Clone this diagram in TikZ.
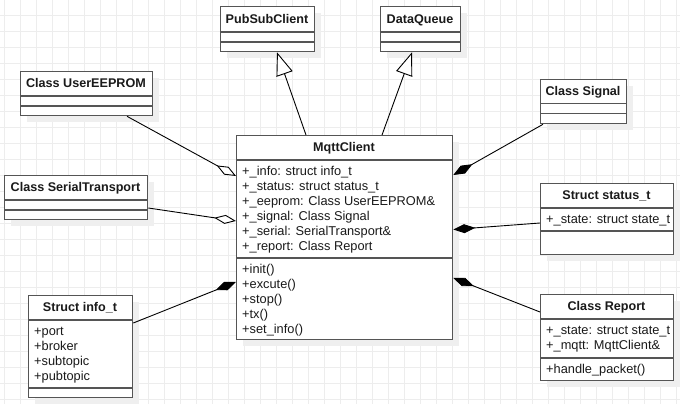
\documentclass[tikz,border=0pt]{standalone}
\usepackage{fontspec}
\setmainfont{Liberation Sans}
\usetikzlibrary{arrows.meta,calc}
\definecolor{gridc}{HTML}{EDEDED}
\definecolor{shadowc}{HTML}{EFEFEF}
\definecolor{borderc}{HTML}{555555}
\definecolor{textc}{HTML}{1A1A1A}
\tikzset{
  umlframe/.style={draw=borderc, line width=1.3pt, fill=white, inner sep=0pt, anchor=north west},
  sepline/.style={draw=borderc, line width=1.3pt},
  titletext/.style={anchor=base, inner sep=0pt, font=\fontsize{12.6}{15}\selectfont\bfseries, text=textc},
  membertext/.style={anchor=north west, inner sep=0pt, align=left, font=\fontsize{12.8}{15}\selectfont, text=textc},
  conn/.style={draw=black, line width=0.9pt},
  inherit/.style={conn, -{Triangle[length=23pt, width=17pt, fill=white]}},
  aggr/.style={conn, -{Diamond[length=22pt, width=9pt, fill=white]}},
  compo/.style={conn, -{Diamond[length=22pt, width=9pt, fill=black]}},
}
% name, x, y, w, h, sep1 offset, sep2 offset
\newcommand\umlbox[7]{%
  \fill[shadowc] (#2+7,#3+7) rectangle ++(#4,#5);
  \node[umlframe, minimum width=#4pt, minimum height=#5pt] (#1) at (#2,#3) {};
  \draw[sepline] ($(#1.north west)+(0,#6)$) -- ++(#4,0);
  \draw[sepline] ($(#1.north west)+(0,#7)$) -- ++(#4,0);
}
\begin{document}
\begin{tikzpicture}[x=1pt,y=-1pt]
\useasboundingbox (0,0) rectangle (680,404);
\fill[white] (0,0) rectangle (680,404);
% grid
\foreach \gx in {4,20,...,676} \draw[gridc, line width=0.9pt] (\gx,0) -- (\gx,404);
\foreach \gy in {15.3,31.3,...,404} \draw[gridc, line width=0.9pt] (0,\gy) -- (680,\gy);

% boxes
\umlbox{psc}{220}{6}{94}{45}{26}{36}
\umlbox{dq}{380}{6}{80}{45}{26}{36}
\umlbox{uee}{20}{71}{132}{44}{25}{35}
\umlbox{st}{4}{175}{143}{44}{25}{35}
\umlbox{mq}{236}{135}{216}{204}{25}{123}
\umlbox{sig}{540}{79}{86}{44}{24.5}{34.5}
\umlbox{stt}{540}{183}{133}{71}{25}{48}
\umlbox{inf}{28}{295}{104}{102}{25}{93}
\umlbox{rep}{540}{294}{133}{86}{25}{64}

% titles
\node[titletext] (psc-t) at (267,23.3) {PubSubClient};
\node[titletext] (dq-t) at (420,23.3) {DataQueue};
\node[titletext] (uee-t) at (86,87.8) {Class UserEEPROM};
\node[titletext] (st-t) at (75.5,191.8) {Class SerialTransport};
\node[titletext] (mq-t) at (344,151.8) {MqttClient};
\node[titletext] (sig-t) at (583,95.8) {Class Signal};
\node[titletext] (stt-t) at (606.5,199.6) {Struct status\_t};
\node[titletext] (inf-t) at (80,311.8) {Struct info\_t};
\node[titletext] (rep-t) at (606.5,310.8) {Class Report};

% members
\node[membertext] (mq-a) at (242,164.5) {\strut+\_info: struct info\_t\\\strut+\_status: struct status\_t\\\strut+\_eeprom: Class UserEEPROM\&\\\strut+\_signal: Class Signal\\\strut+\_serial: SerialTransport\&\\\strut+\_report: Class Report};
\node[membertext] (mq-o) at (242,262.5) {\strut+init()\\\strut+excute()\\\strut+stop()\\\strut+tx()\\\strut+set\_info()};
\node[membertext] (stt-a) at (546,212.5) {\strut+\_state: struct state\_t};
\node[membertext] (inf-a) at (34,324.5) {\strut+port\\\strut+broker\\\strut+subtopic\\\strut+pubtopic};
\node[membertext] (rep-a) at (546,323.5) {\strut+\_state: struct state\_t\\\strut+\_mqtt: MqttClient\&};
\node[membertext] (rep-o) at (546,362.5) {\strut+handle\_packet()};

% connectors
\draw[inherit] ($(mq.north west)+(70,0)$) -- ($(psc.south west)+(57,0)$);
\draw[inherit] ($(mq.north west)+(146,0)$) -- ($(dq.south west)+(32,0)$);
\draw[aggr] ($(uee.south west)+(107,0)$) -- ($(mq.north west)+(0,41)$);
\draw[aggr] ($(st.north east)+(0,33)$) -- ($(mq.north west)+(0,86)$);
\draw[compo] ($(inf.north east)+(0,28)$) -- ($(mq.north west)+(0,147)$);
\draw[compo] ($(sig.south west)+(3,0)$) -- ($(mq.north east)+(0,40)$);
\draw[compo] ($(stt.north west)+(0,40)$) -- ($(mq.north east)+(0,94.5)$);
\draw[compo] ($(rep.north west)+(0,18)$) -- ($(mq.north east)+(0,143)$);
\end{tikzpicture}
\end{document}
